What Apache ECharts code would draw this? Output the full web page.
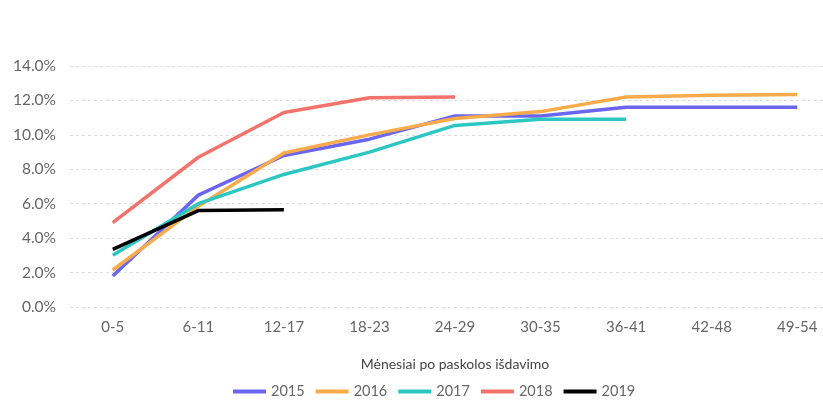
<!DOCTYPE html>
<html>
<head>
<meta charset="utf-8">
<script src="https://cdn.jsdelivr.net/npm/echarts@6/dist/echarts.min.js"></script>
<style>
  html, body { margin: 0; padding: 0; background: #fff; }
  #chart { width: 823px; height: 401px; }
</style>
</head>
<body>
<div id="chart"></div>
<script>
// menesiai po paskolos isdavimo
var categories = ['0-5', '6-11', '12-17', '18-23', '24-29', '30-35', '36-41', '42-48', '49-54'];

var s2015 = [1.8, 6.5, 8.8, 9.75, 11.1, 11.1, 11.6, 11.6, 11.6];
var s2016 = [2.15, 5.85, 8.95, 10.0, 10.95, 11.35, 12.2, 12.3, 12.35];
var s2017 = [3.0, 6.0, 7.7, 9.0, 10.55, 10.9, 10.9];
var s2018 = [4.9, 8.7, 11.3, 12.15, 12.2];
var s2019 = [3.35, 5.6, 5.65];

var yTicks = [0, 2, 4, 6, 8, 10, 12, 14];

var chart = echarts.init(document.getElementById('chart'));

var fontName = 'Lato';
var greyText = '#666';

function mkLine(name, data, color) {
  return {
    name: name,
    type: 'line',
    data: data,
    symbol: 'none',
    lineStyle: { width: 3.5, color: color },
    itemStyle: { color: color }
  };
}

var option = {
  backgroundColor: '#fff',
  animation: false,
  grid: {
    left: 70,
    right: -17,   // the original picture is cut off on the right
    top: 66,
    bottom: 94,
    outerBoundsMode: 'none'
  },
  legend: {
    bottom: -3,
    left: 228,
    itemWidth: 33,
    itemHeight: 4,
    itemGap: 11,
    icon: 'rect',
    textStyle: { color: greyText, fontFamily: fontName, fontSize: 14.5 },
    data: ['2015', '2016', '2017', '2018', '2019']
  },
  xAxis: {
    type: 'category',
    data: categories,
    boundaryGap: true,
    axisLine: { show: false },
    axisTick: { show: false },
    axisLabel: { color: greyText, fontFamily: fontName, fontSize: 15, margin: 13 },
    name: 'Mėnesiai po paskolos išdavimo',
    nameLocation: 'middle',
    nameGap: 50,
    nameTextStyle: { color: '#444', fontFamily: fontName, fontSize: 14 }
  },
  yAxis: {
    type: 'value',
    min: yTicks[0],
    max: yTicks[yTicks.length - 1],
    interval: 2,
    axisLine: { show: false },
    axisTick: { show: false },
    axisLabel: {
      color: greyText,
      fontFamily: fontName,
      fontSize: 15.5,
      margin: 14,
      formatter: function (v) { return v.toFixed(1) + '%'; }
    },
    splitLine: { lineStyle: { color: '#ddd', type: [3, 3] } }
  },
  series: [
    mkLine('2015', s2015, '#6b66f2'),
    mkLine('2016', s2016, '#f7ab4b'),
    mkLine('2017', s2017, '#2cc7c3'),
    mkLine('2018', s2018, '#f2736b'),
    mkLine('2019', s2019, '#000000')
  ]
};

chart.setOption(option, true);
</script>
</body>
</html>
